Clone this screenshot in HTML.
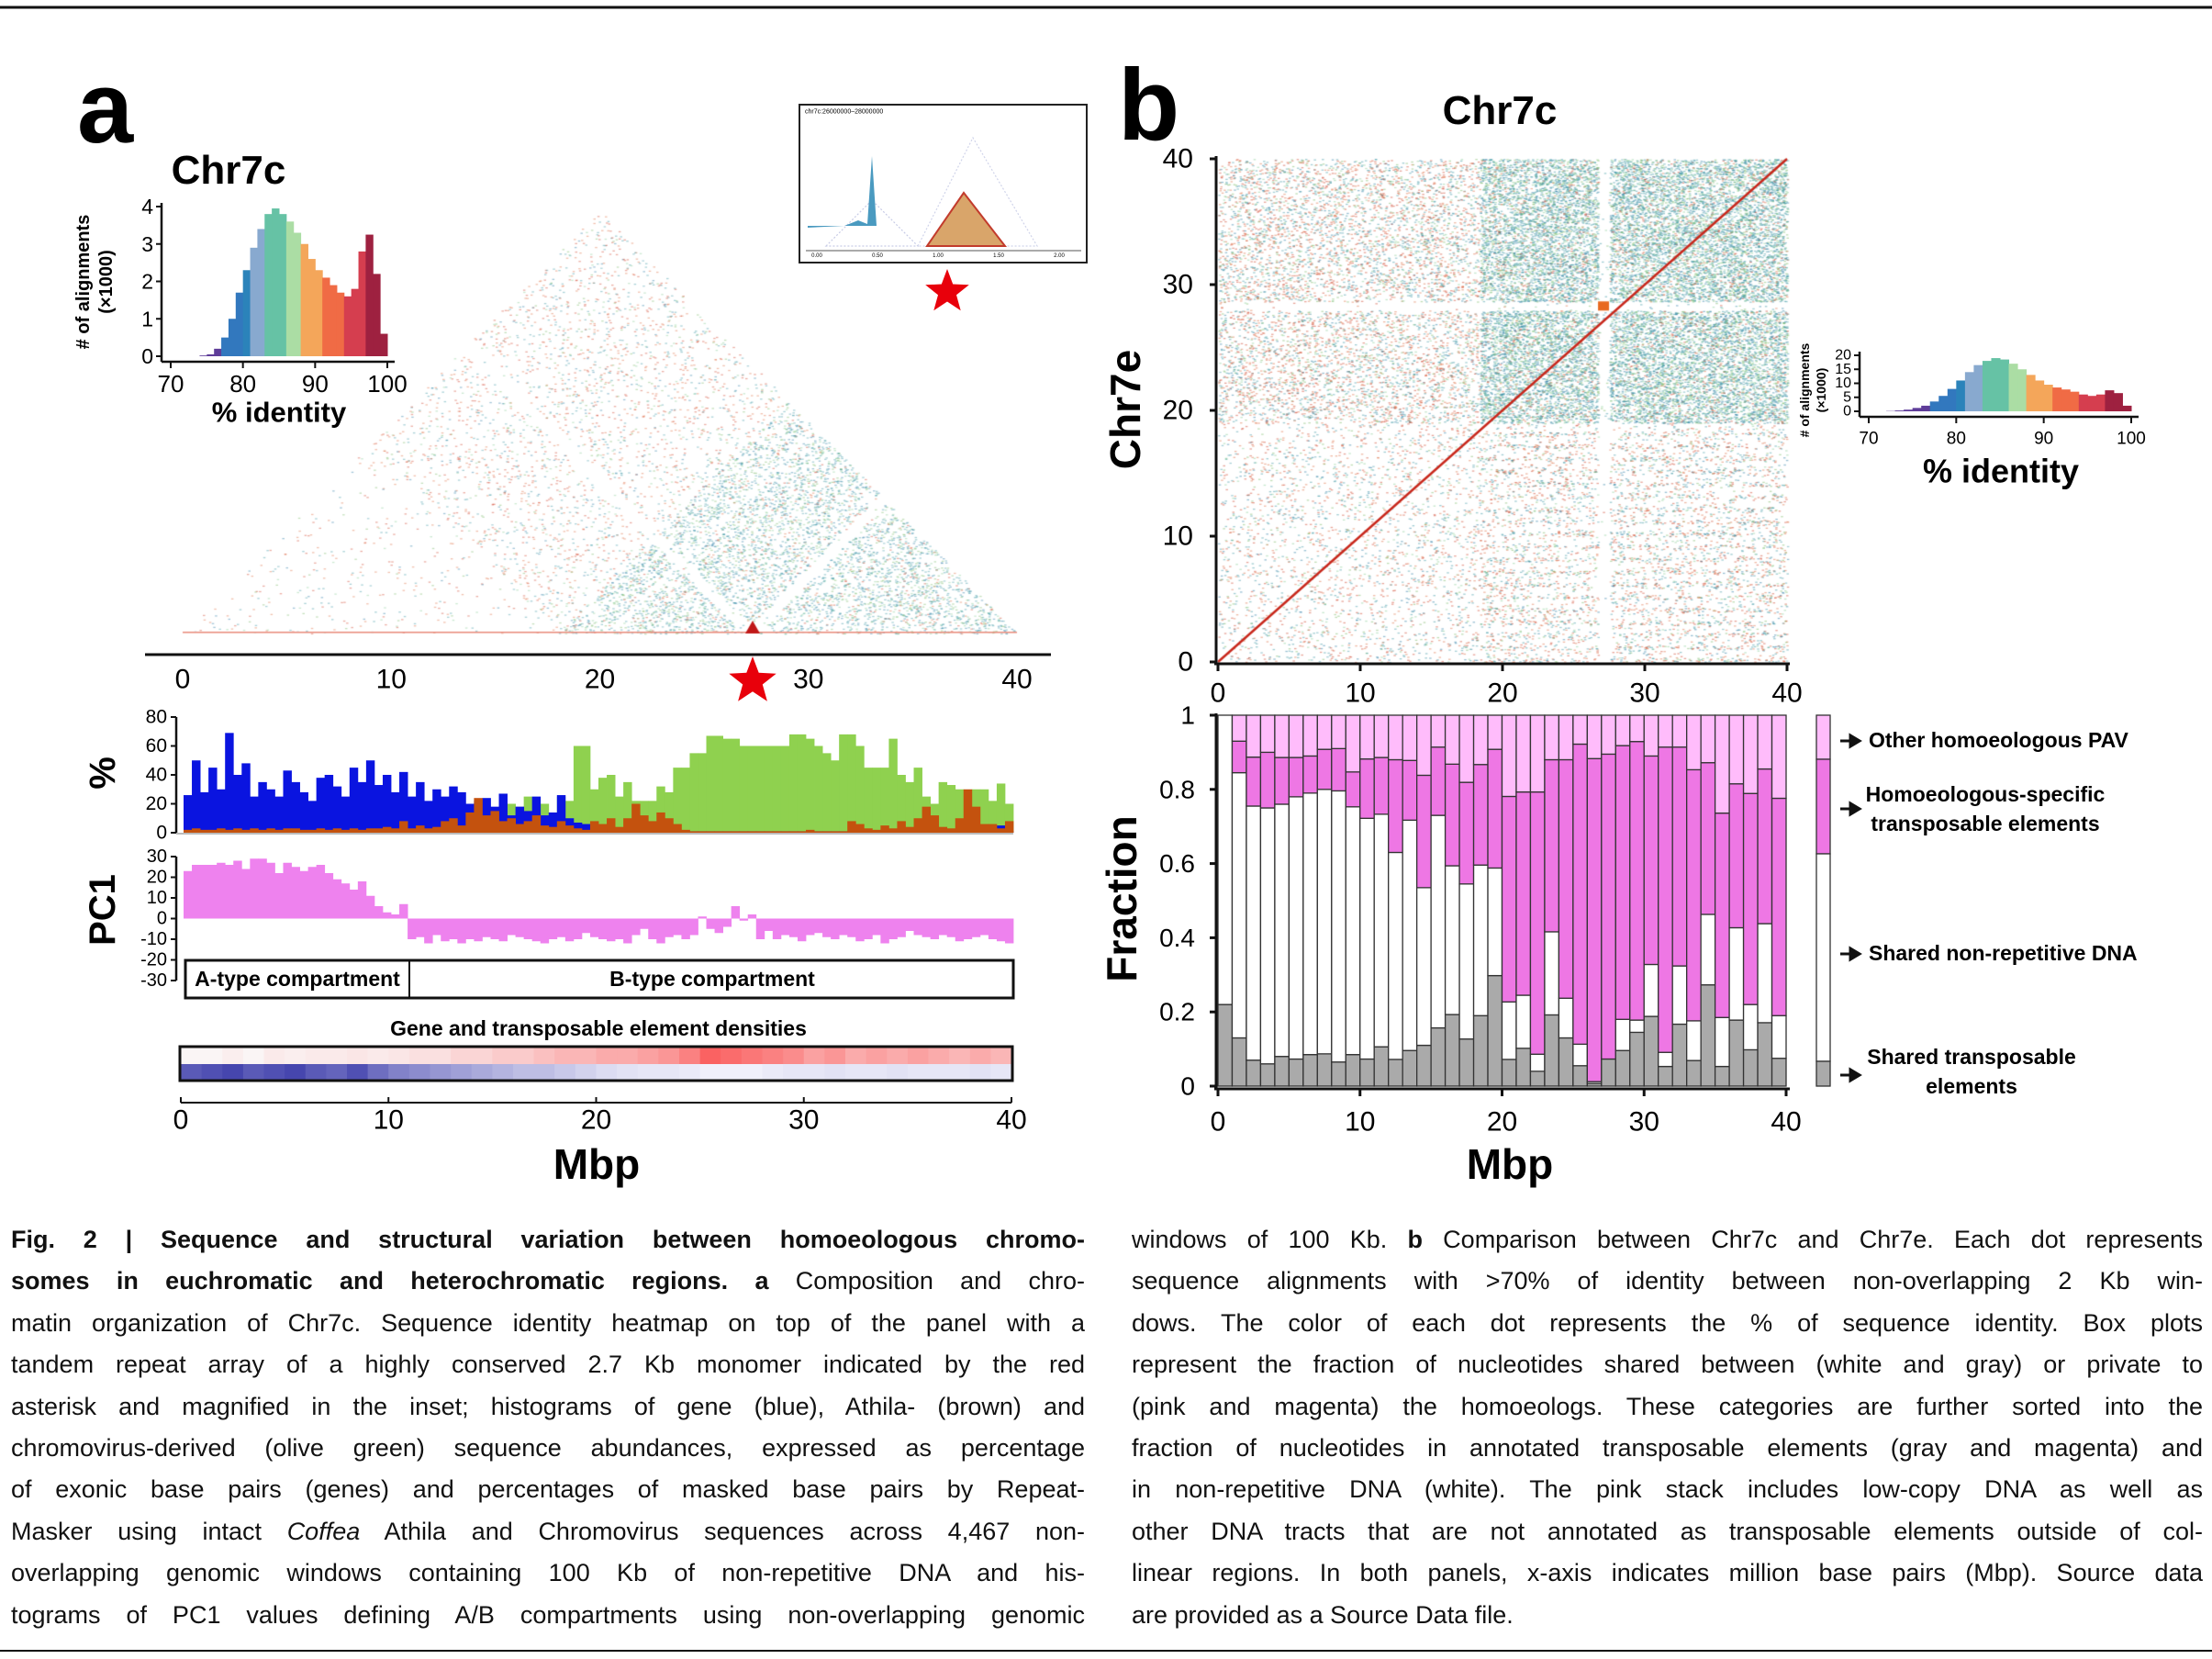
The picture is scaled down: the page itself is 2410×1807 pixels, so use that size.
<!DOCTYPE html>
<html><head><meta charset="utf-8"><style>
html,body{margin:0;padding:0;background:#fff;}
#root{position:relative;width:2410px;height:1807px;overflow:hidden;font-family:"Liberation Sans",sans-serif;}
canvas,svg{position:absolute;left:0;top:0;}
.cap{position:absolute;font-size:27px;line-height:34px;height:36px;text-align:justify;text-align-last:justify;color:#111;overflow:hidden;}
</style></head><body>
<div id="root">
<canvas id="dots" width="2410" height="1807"></canvas>
<svg id="fig" width="2410" height="1807" viewBox="0 0 2410 1807" font-family="Liberation Sans, sans-serif">
  <line x1="0" y1="8" x2="2410" y2="8" stroke="#111" stroke-width="3"/>
  <line x1="0" y1="1798" x2="2410" y2="1798" stroke="#111" stroke-width="2"/>
  <text x="84" y="155" font-size="110" font-weight="bold">a</text>
  <text x="1218" y="152" font-size="110" font-weight="bold">b</text>
  <text x="249" y="200" font-size="44" font-weight="bold" text-anchor="middle">Chr7c</text>
  <text x="1634" y="135" font-size="44" font-weight="bold" text-anchor="middle">Chr7c</text>
</svg>
<div class="cap" style="left:12px;top:1333px;width:1170px;"><b>Fig. 2 | Sequence and structural variation between homoeologous chromo-</b></div>
<div class="cap" style="left:12px;top:1378px;width:1170px;"><b>somes in euchromatic and heterochromatic regions. a</b> Composition and chro-</div>
<div class="cap" style="left:12px;top:1424px;width:1170px;">matin organization of Chr7c. Sequence identity heatmap on top of the panel with a</div>
<div class="cap" style="left:12px;top:1469px;width:1170px;">tandem repeat array of a highly conserved 2.7 Kb monomer indicated by the red</div>
<div class="cap" style="left:12px;top:1515px;width:1170px;">asterisk and magnified in the inset; histograms of gene (blue), Athila- (brown) and</div>
<div class="cap" style="left:12px;top:1560px;width:1170px;">chromovirus-derived (olive green) sequence abundances, expressed as percentage</div>
<div class="cap" style="left:12px;top:1605px;width:1170px;">of exonic base pairs (genes) and percentages of masked base pairs by Repeat-</div>
<div class="cap" style="left:12px;top:1651px;width:1170px;">Masker using intact <i>Coffea</i> Athila and Chromovirus sequences across 4,467 non-</div>
<div class="cap" style="left:12px;top:1696px;width:1170px;">overlapping genomic windows containing 100 Kb of non-repetitive DNA and his-</div>
<div class="cap" style="left:12px;top:1742px;width:1170px;">tograms of PC1 values defining A/B compartments using non-overlapping genomic</div>
<div class="cap" style="left:1233px;top:1333px;width:1167px;">windows of 100 Kb. <b>b</b> Comparison between Chr7c and Chr7e. Each dot represents</div>
<div class="cap" style="left:1233px;top:1378px;width:1167px;">sequence alignments with &gt;70% of identity between non-overlapping 2 Kb win-</div>
<div class="cap" style="left:1233px;top:1424px;width:1167px;">dows. The color of each dot represents the % of sequence identity. Box plots</div>
<div class="cap" style="left:1233px;top:1469px;width:1167px;">represent the fraction of nucleotides shared between (white and gray) or private to</div>
<div class="cap" style="left:1233px;top:1515px;width:1167px;">(pink and magenta) the homoeologs. These categories are further sorted into the</div>
<div class="cap" style="left:1233px;top:1560px;width:1167px;">fraction of nucleotides in annotated transposable elements (gray and magenta) and</div>
<div class="cap" style="left:1233px;top:1605px;width:1167px;">in non-repetitive DNA (white). The pink stack includes low-copy DNA as well as</div>
<div class="cap" style="left:1233px;top:1651px;width:1167px;">other DNA tracts that are not annotated as transposable elements outside of col-</div>
<div class="cap" style="left:1233px;top:1696px;width:1167px;">linear regions. In both panels, x-axis indicates million base pairs (Mbp). Source data</div>
<div class="cap" style="left:1233px;top:1742px;width:1167px;text-align-last:left;">are provided as a Source Data file.</div>
</div>
<script>
// ---------- data ----------
const geneValues=[26,50,28,45,30,69,40,48,25,35,30,25,43,35,28,22,38,40,32,25,45,35,50,33,40,28,42,25,35,22,30,25,32,28,20,22,24,18,27,12,18,15,25,12,14,26,10,7,6,4,3,3,2,2,2,2,2,1,1,1,1,1,1,1,1,1,1,1,1,1,1,1,1,1,1,1,1,1,1,1,1,1,1,1,1,1,1,1,1,1,1,1,1,1,1,1,5,1,5,1];
const athilaValues=[2,3,2,2,3,2,3,2,3,2,3,2,3,3,2,2,3,2,3,2,3,2,3,3,4,3,8,3,5,3,4,8,10,5,14,24,12,15,8,10,6,8,12,5,4,8,5,3,2,8,6,10,4,10,20,12,8,14,10,6,2,1,1,1,1,1,1,1,1,1,1,1,1,1,1,2,1,1,1,1,8,6,3,2,5,3,8,4,10,18,12,4,3,10,30,18,6,6,3,8];
const chromoValues=[0,0,0,0,0,0,0,0,0,0,0,0,0,0,0,0,0,0,0,0,0,0,0,0,0,0,0,0,0,20,5,5,8,10,10,12,8,10,15,20,18,25,15,20,12,25,22,60,60,30,38,40,25,35,22,22,22,32,28,45,45,55,55,67,67,65,65,60,60,60,60,60,60,68,68,65,60,55,50,68,68,60,45,45,45,65,40,35,45,25,20,35,33,30,25,30,30,22,34,20];
const pc1Values=[23,26,26,26,27,26,28,24,29,29,27,22,27,25,23,25,26,22,19,17,14,18,11,6,3,2,7,-10,-9,-12,
-8,-11,-10,-12,-10,-11,-9,-10,-11,-8,-9,-10,-11,-12,-10,-9,-11,-10,-7,-9,-10,-11,-10,-12,-8,-5,-10,-12,-9,-8,
-10,-8,1,-5,-7,-4,6,-1,2,-10,-6,-10,-8,-9,-11,-8,-7,-9,-10,-8,-9,-11,-10,-8,-12,-10,-9,-6,-8,-9,-10,-8,-9,-11,-10,-9,-8,-10,-11,-12];
const teDensity=[0.05,0.05,0.08,0.05,0.1,0.08,0.1,0.1,0.12,0.1,0.12,0.15,0.15,0.2,0.2,0.25,0.25,0.3,0.35,0.35,0.4,0.4,0.45,0.5,0.6,0.75,0.7,0.65,0.6,0.55,0.45,0.5,0.4,0.45,0.4,0.45,0.4,0.35,0.4,0.35];
const geneDensity=[0.8,0.85,0.9,0.8,0.85,0.9,0.8,0.75,0.85,0.7,0.6,0.55,0.5,0.45,0.4,0.35,0.3,0.3,0.25,0.2,0.15,0.12,0.1,0.1,0.08,0.05,0.05,0.05,0.08,0.1,0.1,0.12,0.1,0.1,0.12,0.1,0.1,0.1,0.12,0.1];
const identityBins=[70,71,72,73,74,75,76,77,78,79,80,81,82,83,84,85,86,87,88,89,90,91,92,93,94,95,96,97,98,99];
const histAValues=[0,0,0,0,0.02,0.05,0.2,0.5,1.0,1.7,2.3,2.9,3.4,3.8,3.95,3.8,3.6,3.3,3.0,2.6,2.3,2.1,1.9,1.7,1.6,1.8,2.8,3.25,2.2,0.6];
const histBValues=[0,0,0.1,0.3,0.6,1.2,2,3.5,5.5,8,11,14,16.5,18,19,18.5,17,15,13,11,9.5,8.5,7.8,7,6,5.5,6,7.5,6.5,2];
const histATicks=[0,1,2,3,4];
const histBTicks=[0,5,10,15,20];
const identityTicks=[70,80,90,100];
const mbpTicks=[0,10,20,30,40];
const pctTicks=[0,20,40,60,80];
const pc1Ticks=[30,20,10,0,-10,-20,-30];
const fracTicks=[0,0.2,0.4,0.6,0.8,1];
const sharedTE=[0.22,0.13,0.07,0.06,0.08,0.073,0.085,0.087,0.065,0.085,0.073,0.106,0.072,0.096,0.11,0.157,0.193,0.127,0.19,0.298,0.072,0.102,0.04,0.192,0.13,0.055,0.007,0.073,0.096,0.145,0.188,0.053,0.167,0.069,0.273,0.053,0.178,0.098,0.171,0.075];
const sharedNonRep=[0.78,0.715,0.685,0.69,0.68,0.707,0.705,0.713,0.731,0.668,0.649,0.627,0.558,0.621,0.425,0.573,0.401,0.418,0.406,0.29,0.155,0.143,0.046,0.224,0.107,0.058,0.005,0,0.084,0.033,0.14,0.038,0.157,0.107,0.19,0.132,0.249,0.122,0.267,0.115];
const homTE=[0,0.085,0.132,0.15,0.126,0.106,0.1,0.108,0.114,0.094,0.16,0.153,0.25,0.161,0.303,0.184,0.274,0.274,0.271,0.32,0.554,0.548,0.707,0.464,0.643,0.809,0.871,0.822,0.738,0.751,0.562,0.823,0.59,0.677,0.409,0.551,0.388,0.569,0.417,0.586];

// ---------- helpers ----------
const NS="http://www.w3.org/2000/svg";
const svg=document.getElementById('fig');
function mk(tag,attrs,parent){const e=document.createElementNS(NS,tag);for(const k in attrs)e.setAttribute(k,attrs[k]);(parent||svg).appendChild(e);return e;}
function txt(x,y,s,size,opts,parent){const o=Object.assign({x:x,y:y,'font-size':size,'dominant-baseline':'central'},opts||{});const t=mk('text',o,parent);t.textContent=s;return t;}
function lin(a,b,c,d){return v=>c+(v-a)/(b-a)*(d-c);}
function starPts(cx,cy,R){const r=R*0.42;let p=[];for(let i=0;i<10;i++){const a=-Math.PI/2+i*Math.PI/5;const rr=i%2?r:R;p.push((cx+rr*Math.cos(a)).toFixed(1)+','+(cy+rr*Math.sin(a)).toFixed(1));}return p.join(' ');}
const spectral=[[74,[94,60,153]],[77,[50,120,190]],[80,[43,131,186]],[81,[136,169,207]],[83,[102,194,165]],[86,[171,221,164]],[88,[244,166,90]],[91,[240,107,69]],[94,[213,62,79]],[97,[158,33,64]],[100,[150,20,50]]];
function idColor(v){for(let i=0;i<spectral.length;i++){if(v<spectral[i][0]){const c=spectral[Math.max(0,i-1)][1];return 'rgb('+c.join(',')+')';}}return 'rgb(150,20,50)';}

// ---------- histogram insets ----------
function histogram(name,vals,ticks,ymax,x0,x1,y0,y1,fs){
  const g=mk('g',{});
  
  
  const X=lin(70,100,x0,x1),Y=lin(0,ymax,y0,y1);
  identityBins.forEach((b,i)=>{
    const r=mk('rect',{x:X(b),y:Y(vals[i]),width:X(b+1)-X(b)+0.5,height:y0-Y(vals[i]),fill:idColor(b+0.5)},g);
    
    
  });
  const ax=x0-10;
  const yl=mk('line',{x1:ax,y1:y0+6,x2:ax,y2:Y(ymax)-4,stroke:'#111','stroke-width':2.5},g);
  
  
  ticks.forEach(t=>{mk('line',{x1:ax-6,x2:ax,y1:Y(t),y2:Y(t),stroke:'#111','stroke-width':2},g);
    const l=txt(ax-9,Y(t),String(t),fs,{'text-anchor':'end'},g);
    
    });
  const xl=mk('line',{x1:ax,y1:y0+6,x2:X(100)+8,y2:y0+6,stroke:'#111','stroke-width':2.5},g);
  
  
  identityTicks.forEach(t=>{mk('line',{x1:X(t),x2:X(t),y1:y0+6,y2:y0+13,stroke:'#111','stroke-width':2},g);
    const l=txt(X(t),y0+30,String(t),fs+3,{'text-anchor':'middle'},g);
    
    });
  return {g,X,Y};
}
const hA=histogram('identity-histogram-a',histAValues,histATicks,4,186,422,388,225,23);
let t=txt((186+422)/2,449,'% identity',31,{'text-anchor':'middle','font-weight':'bold'});


t=txt(0,0,'# of alignments',20,{'text-anchor':'middle','font-weight':'bold',transform:'translate(91,307) rotate(-90)'});


t=txt(0,0,'(×1000)',20,{'text-anchor':'middle','font-weight':'bold',transform:'translate(116,307) rotate(-90)'});



const hB=histogram('identity-histogram-b',histBValues,histBTicks,20,2036,2322,448,387,16);
t=txt(2180,513,'% identity',36,{'text-anchor':'middle','font-weight':'bold'});


t=txt(0,0,'# of alignments',14,{'text-anchor':'middle','font-weight':'bold',transform:'translate(1966,425) rotate(-90)'});


t=txt(0,0,'(×1000)',14,{'text-anchor':'middle','font-weight':'bold',transform:'translate(1984,425) rotate(-90)'});



// ---------- panel a: triangle axis ----------
const XA=lin(0,40,199,1108);
let e=mk('line',{x1:158,y1:713,x2:1145,y2:713,stroke:'#111','stroke-width':3});


mbpTicks.forEach(v=>{const l=txt(XA(v),740,String(v),30,{'text-anchor':'middle'});
  
  });
e=mk('polygon',{points:starPts(820,742,27),fill:'#e8000b'});



// inset
e=mk('rect',{x:871,y:114,width:313,height:172,fill:'#fff',stroke:'#222','stroke-width':2});


t=txt(877,122,'chr7c:26000000–28000000',7,{});


e=mk('line',{x1:878,y1:273,x2:1178,y2:273,stroke:'#555','stroke-width':1});


['0.00','0.50','1.00','1.50','2.00'].forEach((s,i)=>{const l=txt(890+i*66,279,s,6,{'text-anchor':'middle'});
  
  });
e=mk('polygon',{points:'900,268 950,218 1000,268',fill:'none',stroke:'#c8cce6','stroke-width':1.2,'stroke-dasharray':'2 2'});


e=mk('polygon',{points:'1000,268 1060,150 1130,268',fill:'none',stroke:'#d0d4ea','stroke-width':1.2,'stroke-dasharray':'2 2'});


e=mk('polygon',{points:'1010,268 1050,210 1095,268',fill:'#d9a56a',stroke:'#c23b2c','stroke-width':2});


e=mk('path',{d:'M880,248 L920,246 L935,240 L945,244 L950,170 L955,246 L880,246 Z',fill:'#4a9ac0'});


e=mk('polygon',{points:starPts(1032,318,25),fill:'#e8000b'});



// ---------- % abundance chart ----------
const XB=lin(0,100,200,1104);
const YP=lin(0,80,907,781);
const pctG=mk('g',{});


[[chromoValues,'#8fd14f','chromovirus-bar'],[geneValues,'#0a14e0','gene-bar'],[athilaValues,'#c4520e','athila-bar']].forEach(([arr,col,nm])=>{
  arr.forEach((v,i)=>{if(v<=0)return;const r=mk('rect',{x:XB(i),y:YP(v),width:XB(i+1)-XB(i)+0.4,height:YP(0)-YP(v),fill:col},pctG);
    
    });
});
e=mk('line',{x1:192,y1:781,x2:192,y2:907,stroke:'#111','stroke-width':2.5});


e=mk('line',{x1:192,y1:908,x2:1104,y2:908,stroke:'#bbb','stroke-width':2});


pctTicks.forEach(v=>{mk('line',{x1:186,x2:192,y1:YP(v),y2:YP(v),stroke:'#111','stroke-width':2});
  const l=txt(182,YP(v),String(v),21,{'text-anchor':'end'});
  
  });
t=txt(0,0,'%',40,{'text-anchor':'middle','font-weight':'bold',transform:'translate(112,842) rotate(-90)'});



// ---------- PC1 ----------
const YC=lin(-30,30,1068,933);
const pcG=mk('g',{});


pc1Values.forEach((v,i)=>{const y=Math.min(YC(v),YC(0));const r=mk('rect',{x:XB(i),y:y,width:XB(i+1)-XB(i)+0.4,height:Math.abs(YC(v)-YC(0)),fill:'#ee82ee'},pcG);
  
  });
e=mk('line',{x1:192,y1:933,x2:192,y2:1068,stroke:'#111','stroke-width':2.5});


pc1Ticks.forEach(v=>{mk('line',{x1:186,x2:192,y1:YC(v),y2:YC(v),stroke:'#111','stroke-width':2});
  const l=txt(182,YC(v),String(v),20,{'text-anchor':'end'});
  
  });
t=txt(0,0,'PC1',40,{'text-anchor':'middle','font-weight':'bold',transform:'translate(112,991) rotate(-90)'});


e=mk('rect',{x:202,y:1046,width:902,height:41,fill:'#fff',stroke:'#111','stroke-width':3});


e=mk('line',{x1:446,y1:1046,x2:446,y2:1087,stroke:'#111','stroke-width':2});


t=txt(324,1066,'A-type compartment',23,{'text-anchor':'middle','font-weight':'bold'});


t=txt(776,1066,'B-type compartment',23,{'text-anchor':'middle','font-weight':'bold'});



// ---------- density strip ----------
t=txt(652,1120,'Gene and transposable element densities',23,{'text-anchor':'middle','font-weight':'bold'});


const XD=lin(0,40,197,1102);
teDensity.forEach((v,i)=>{
  const r=mk('rect',{x:XD(i),y:1141,width:XD(i+1)-XD(i)+0.5,height:18,fill:'rgb(250,'+Math.round(255-v*210)+','+Math.round(255-v*210)+')'});
  
  });
geneDensity.forEach((v,i)=>{
  const r=mk('rect',{x:XD(i),y:1159,width:XD(i+1)-XD(i)+0.5,height:17,fill:'rgb('+Math.round(250-v*200)+','+Math.round(250-v*200)+','+Math.round(255-v*90)+')'});
  
  });
e=mk('rect',{x:196,y:1140,width:907,height:37,fill:'none',stroke:'#111','stroke-width':3});


e=mk('line',{x1:197,y1:1201,x2:1102,y2:1201,stroke:'#111','stroke-width':2});


mbpTicks.forEach(v=>{mk('line',{x1:XD(v),x2:XD(v),y1:1195,y2:1201,stroke:'#111','stroke-width':2});
  const l=txt(XD(v),1220,String(v),30,{'text-anchor':'middle'});
  
  });
t=txt(650,1268,'Mbp',46,{'text-anchor':'middle','font-weight':'bold'});



// ---------- panel b dot plot axes ----------
const XP=lin(0,40,1327,1947),YD=lin(0,40,721,173);
e=mk('line',{x1:1325,y1:170,x2:1325,y2:723,stroke:'#111','stroke-width':3});


e=mk('line',{x1:1323,y1:723,x2:1950,y2:723,stroke:'#111','stroke-width':3});


mbpTicks.forEach(v=>{mk('line',{x1:1318,x2:1325,y1:YD(v),y2:YD(v),stroke:'#111','stroke-width':3});
  let l=txt(1300,YD(v),String(v),30,{'text-anchor':'end'});
  
  
  mk('line',{x1:XP(v),x2:XP(v),y1:723,y2:731,stroke:'#111','stroke-width':3});
  l=txt(XP(v),755,String(v),30,{'text-anchor':'middle'});
  
  });
t=txt(0,0,'Chr7e',46,{'text-anchor':'middle','font-weight':'bold',transform:'translate(1226,446) rotate(-90)'});



// ---------- stacked fraction chart ----------
const XS=lin(0,40,1327,1946),YS=lin(0,1,1183,779);
const stG=mk('g',{});


sharedTE.forEach((v,i)=>{
  const segs=[[sharedTE[i],'#aaaaaa','shared-te-segment'],[sharedNonRep[i],'#ffffff','shared-nonrep-segment'],[homTE[i],'#ee77e4','homoeolog-te-segment'],[Math.max(0,1-sharedTE[i]-sharedNonRep[i]-homTE[i]),'#ffbcfb','other-pav-segment']];
  let base=0;
  segs.forEach(([h,c,nm])=>{const r=mk('rect',{x:XS(i),y:YS(base+h),width:XS(i+1)-XS(i),height:YS(base)-YS(base+h),fill:c,stroke:'#333','stroke-width':1.3},stG);
    
    
    base+=h;});
});
e=mk('line',{x1:1325,y1:777,x2:1325,y2:1186,stroke:'#111','stroke-width':3});


e=mk('line',{x1:1323,y1:1186,x2:1950,y2:1186,stroke:'#111','stroke-width':3});


fracTicks.forEach(v=>{mk('line',{x1:1318,x2:1325,y1:YS(v),y2:YS(v),stroke:'#111','stroke-width':3});
  const l=txt(1302,YS(v),v===0?'0':v===1?'1':String(v),28,{'text-anchor':'end'});
  
  });
mbpTicks.forEach(v=>{mk('line',{x1:XS(v),x2:XS(v),y1:1186,y2:1194,stroke:'#111','stroke-width':3});
  const l=txt(XS(v),1222,String(v),30,{'text-anchor':'middle'});
  
  });
t=txt(0,0,'Fraction',46,{'text-anchor':'middle','font-weight':'bold',transform:'translate(1222,979) rotate(-90)'});


t=txt(1645,1268,'Mbp',46,{'text-anchor':'middle','font-weight':'bold'});



// legend
const legG=mk('g',{});


[[779,827,'#ffbcfb'],[827,930,'#ee77e4'],[930,1156,'#ffffff'],[1156,1183,'#aaaaaa']].forEach(([a,b,c])=>{
  const r=mk('rect',{x:1979,y:a,width:15,height:b-a,fill:c,stroke:'#333','stroke-width':1.3},legG);
  
  });
[807,881,1039,1171].forEach(y=>{const a=mk('path',{d:'M2005,'+y+' L2018,'+y+' M2016,'+(y-6)+' L2026,'+y+' L2016,'+(y+6)+' Z',stroke:'#111','stroke-width':3,fill:'#111'},legG);
  
  });
[[2036,806,'Other homoeologous PAV','start'],[2163,865,'Homoeologous-specific','middle'],[2163,897,'transposable elements','middle'],[2036,1038,'Shared non-repetitive DNA','start'],[2148,1151,'Shared transposable','middle'],[2148,1183,'elements','middle']].forEach(([x,y,s,an])=>{
  const l=txt(x,y,s,23,{'text-anchor':an,'font-weight':'bold'},legG);
  
  });

// ---------- dot textures (visual texture of alignment dots) ----------
const cv=document.getElementById('dots').getContext('2d');
let seed=12345;function rnd(){seed|=0;seed=seed+0x6D2B79F5|0;let q=Math.imul(seed^seed>>>15,1|seed);q=q+Math.imul(q^q>>>7,61|q)^q;return((q^q>>>14)>>>0)/4294967296;}
const dotCols=['#3f9aa6','#3f9aa6','#4d9fae','#2f7fa8','#7dbb6a','#8ccf9a','#e0734a','#d9472b','#3b64b2'];
function pick(redBias){const r=rnd();if(r<redBias)return rnd()<0.5?'#e0734a':'#d24a32';return dotCols[Math.floor(rnd()*6)];}
// triangle (panel a)
const TX=lin(0,40,199,1108);const TH=(690-229)/20;
for(let n=0;n<60000;n++){
  const i=rnd()*40,j=rnd()*40;if(j<=i)continue;
  const di=i<18?0.3:1,dj=j<18?0.3:1;let w=di*dj;
  if(Math.abs(i-27.2)<0.35||Math.abs(j-27.2)<0.35)w*=0.05;
  if(Math.abs(i-20.5)<0.25||Math.abs(j-20.5)<0.25)w*=0.3;
  if(rnd()>w*0.6)continue;
  const x=TX((i+j)/2),y=690-(j-i)/2*TH;
  cv.fillStyle=pick(i<18?0.5:0.12);cv.globalAlpha=0.45;
  cv.fillRect(x,y,2.5,1.3);
}
cv.globalAlpha=1;cv.fillStyle='#e88a7a';cv.fillRect(199,688,909,1.5);
cv.fillStyle='#c01818';cv.beginPath();cv.moveTo(812,690);cv.lineTo(820,676);cv.lineTo(828,690);cv.fill();
// dot plot (panel b)
for(let n=0;n<110000;n++){
  const x=rnd()*40,y=rnd()*40;
  let w=(x>18.4?1:0.4)*(y>19?1:0.4);
  if(x>18.4&&y<19)w=0.3*(Math.floor(y*3)%3===0?1.6:0.6);
  if(Math.abs(x-27.1)<0.4)w*=0.04;
  if(Math.abs(y-28.3)<0.35)w*=0.05;
  if(rnd()>w*0.65)continue;
  cv.fillStyle=pick((x<18.4||y<19)?0.45:0.1);cv.globalAlpha=0.5;
  cv.fillRect(XP(x),YD(y),2.5,1.3);
}
cv.globalAlpha=1;cv.strokeStyle='#c8281c';cv.lineWidth=2.5;cv.beginPath();cv.moveTo(XP(0),YD(0));cv.lineTo(XP(40),YD(40));cv.stroke();
cv.fillStyle='#e86a20';cv.fillRect(XP(27.1)-6,YD(28.3)-5,12,10);
</script>
</body></html>
